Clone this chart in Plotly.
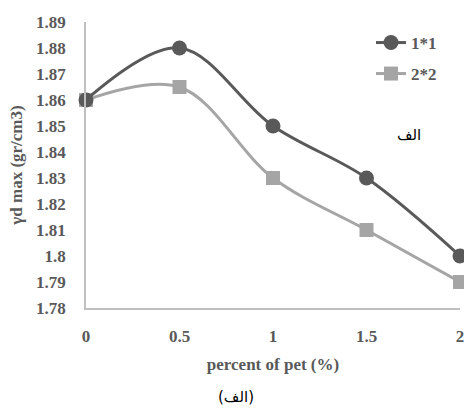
import plotly.graph_objects as go

# Dry density versus PET content for two sample sizes
pet_percent = [0, 0.5, 1, 1.5, 2]
series_names = ["1*1", "2*2"]
gamma_1x1 = [1.86, 1.88, 1.85, 1.83, 1.80]
gamma_2x2 = [1.86, 1.865, 1.83, 1.81, 1.79]

x_ticks = [0, 0.5, 1, 1.5, 2]
x_tick_labels = ["0", "0.5", "1", "1.5", "2"]
y_ticks = [1.78, 1.79, 1.80, 1.81, 1.82, 1.83, 1.84, 1.85, 1.86, 1.87, 1.88, 1.89]
y_tick_labels = ["1.78", "1.79", "1.8", "1.81", "1.82", "1.83", "1.84",
                 "1.85", "1.86", "1.87", "1.88", "1.89"]

DARK = "#595959"
LIGHT = "#A5A5A5"
AXIS = "#BFBFBF"
serif = dict(family="Liberation Serif", size=17, color=DARK)


def bold(s):
    return f"<b>{s}</b>"


fig = go.Figure()
fig.add_trace(go.Scatter(
    x=pet_percent, y=gamma_2x2, name=bold(series_names[1]), mode="lines+markers",
    line=dict(color=LIGHT, width=3, shape="spline", smoothing=1),
    marker=dict(symbol="square", size=14, color=LIGHT),
    cliponaxis=False, legend="legend2", showlegend=True,
))
fig.add_trace(go.Scatter(
    x=pet_percent, y=gamma_1x1, name=bold(series_names[0]), mode="lines+markers",
    line=dict(color=DARK, width=3, shape="spline", smoothing=1),
    marker=dict(symbol="circle", size=15, color=DARK),
    cliponaxis=False, legend="legend", showlegend=True,
))

legend_common = dict(
    xanchor="left", yanchor="middle", bgcolor="rgba(0,0,0,0)",
    font=serif, itemsizing="trace",
)

fig.update_layout(
    width=464, height=408,
    margin=dict(l=86, r=4, t=22, b=100, autoexpand=False),
    paper_bgcolor="white", plot_bgcolor="white",
    font=serif,
    showlegend=True,
    legend=dict(x=(371 - 86) / 374, y=(308 - 43) / 286, **legend_common),
    legend2=dict(x=(371 - 86) / 374, y=(308 - 74) / 286, **legend_common),
    xaxis=dict(
        range=[0, 2], tickvals=x_ticks, ticktext=[bold(t) for t in x_tick_labels],
        showgrid=False, zeroline=False, showline=True,
        linecolor=AXIS, linewidth=1.5, ticks="", ticklabelstandoff=12,
        ticklabeloverflow="allow", automargin=False,
        tickfont=serif,
        title=dict(text=bold("percent of pet (%)"), font=serif, standoff=13),
    ),
    yaxis=dict(
        range=[1.78, 1.89], tickvals=y_ticks, ticktext=[bold(t) for t in y_tick_labels],
        showgrid=False, zeroline=False, showline=True,
        linecolor=AXIS, linewidth=1.5, ticks="", ticklabelstandoff=15,
        tickfont=serif,
        title=dict(text=bold("γd max (gr/cm3)"), font=serif, standoff=9),
    ),
    annotations=[
        dict(text="الف", xref="paper", yref="paper",
             x=(409 - 86) / 374, y=(308 - 135) / 286,
             xanchor="center", yanchor="middle", showarrow=False,
             font=dict(family="DejaVu Sans", size=15, color="black")),
        dict(text="(الف)", xref="paper", yref="paper",
             x=(236 - 86) / 374, y=(308 - 397) / 286,
             xanchor="center", yanchor="middle", showarrow=False,
             font=dict(family="DejaVu Sans", size=15, color="black")),
    ],
)

fig.write_html("out.html")
